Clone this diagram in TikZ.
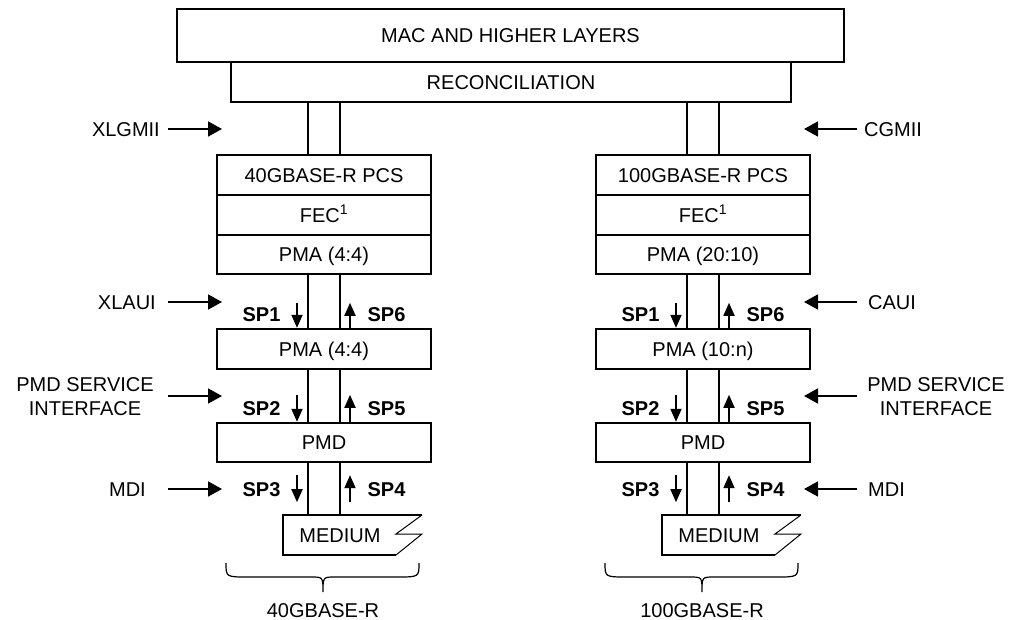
\documentclass[tikz,border=0pt]{standalone}
\usepackage{fontspec}
\setmainfont{Liberation Sans}
\usetikzlibrary{arrows.meta}
\begin{document}
\begin{tikzpicture}[x=1pt,y=-1pt,
  every node/.style={font=\fontsize{20}{24}\selectfont, inner sep=0pt, text height=14.4pt, text depth=0pt},
  twoline/.style={align=center, text height=38.4pt, text depth=0pt},
  box/.style={draw, line width=2.4pt, minimum width=214pt, minimum height=40pt},
  pair/.style={line width=2.2pt},
  bigarrow/.style={line width=1.8pt, -{Triangle[length=14pt,width=15pt]}},
  smallarrow/.style={line width=1.8pt, -{Triangle[length=13pt,width=11pt]}},
  splabel/.style={font=\fontsize{20}{24}\selectfont\bfseries},
  brace/.style={line width=1.2pt},
  ]
\fill[white] (0,0) rectangle (1014,620);
\useasboundingbox (0,0) rectangle (1014,620);

\node[draw, line width=2.4pt, minimum width=667pt, minimum height=53pt] (mac) at (510.5,35.5) {MAC AND HIGHER LAYERS};
\node[draw, line width=2.4pt, minimum width=560pt, minimum height=40pt] (recon) at (511,82) {RECONCILIATION};

\foreach \s/\c/\pcs/\pmaa/\pmab/\lbl in {L/324/40GBASE-R PCS/PMA (4:4)/PMA (4:4)/40GBASE-R, R/703/100GBASE-R PCS/PMA (20:10)/PMA (10:n)/100GBASE-R}{
  \node[box] (pcs\s) at (\c,175) {\pcs};
  \node[box] (fec\s) at (\c,215) {FEC\textsuperscript{1}};
  \node[box, minimum height=39pt] (pmaA\s) at (\c,254.5) {\pmaa};
  \node[box] (pmaB\s) at (\c,349) {\pmab};
  \node[box, minimum height=39pt] (pmd\s) at (\c,442.5) {PMD};
  \coordinate (medtop\s) at (\c,515);
  \foreach \d in {-16,16}{
    \draw[pair] ([xshift=\d pt]pcs\s.north) -- ([xshift=\d pt]pcs\s.north |- recon.south);
    \draw[pair] ([xshift=\d pt]pmaA\s.south) -- ([xshift=\d pt]pmaB\s.north);
    \draw[pair] ([xshift=\d pt]pmaB\s.south) -- ([xshift=\d pt]pmd\s.north);
    \draw[pair] ([xshift=\d pt]pmd\s.south) -- ([xshift=\d pt]medtop\s);
  }
  % medium
  \draw[line width=2.4pt] ({\c+72},555) -- ({\c-41},555) -- ({\c-41},515) -- ({\c+98},515);
  \draw[line width=1pt] ({\c+98},515) -- ({\c+72},534) -- ({\c+98},534) -- ({\c+72},555);
  \node (medium\s) at ({\c+16},535) {MEDIUM};
  % service point arrows
  \draw[smallarrow] ([xshift=-27pt,yshift=25pt]pmaB\s.north) -- ([xshift=-27pt]pmaB\s.north);
  \draw[smallarrow] ([xshift=26pt]pmaB\s.north) -- ([xshift=26pt,yshift=25pt]pmaB\s.north);
  \draw[smallarrow] ([xshift=-27pt,yshift=27pt]pmd\s.north) -- ([xshift=-27pt]pmd\s.north);
  \draw[smallarrow] ([xshift=26pt]pmd\s.north) -- ([xshift=26pt,yshift=27pt]pmd\s.north);
  \draw[smallarrow] ([xshift=-27pt,yshift=-12pt]pmd\s.south) -- ([xshift=-27pt,yshift=-39pt]pmd\s.south);
  \draw[smallarrow] ([xshift=26pt,yshift=-39pt]pmd\s.south) -- ([xshift=26pt,yshift=-12pt]pmd\s.south);
  \node[splabel] (spA\s) at ({\c-62.5},314) {SP1};
  \node[splabel] (spF\s) at ({\c+62.5},314) {SP6};
  \node[splabel] (spB\s) at ({\c-62.5},408) {SP2};
  \node[splabel] (spE\s) at ({\c+62.5},408) {SP5};
  \node[splabel] (spC\s) at ({\c-62.5},489) {SP3};
  \node[splabel] (spD\s) at ({\c+62.5},489) {SP4};
  % brace
  \draw[brace] ({\c-98},563) .. controls ({\c-98},577) .. ({\c-76},577) -- ({\c-13},577)
     .. controls ({\c-1},577) .. ({\c-1},592) .. controls ({\c-1},577) .. ({\c+11},577)
     -- ({\c+73},577) .. controls ({\c+95},577) .. ({\c+95},563);
  \node (base\s) at ({\c-1},610) {\lbl};
}

% left interface labels
\node[anchor=east] (xlgmii) at (160,129) {XLGMII};
\node[anchor=east] (xlaui) at (156,302) {XLAUI};
\node[twoline] (pmdsiL) at (85,396) {PMD SERVICE\\INTERFACE};
\node[anchor=east] (mdiL) at (146,489) {MDI};
\coordinate (xlgmiiTip) at (222,129);
\coordinate (xlauiTip) at (222,302);
\coordinate (pmdsiLTip) at (222,396);
\coordinate (mdiLTip) at (222,489);
\draw[bigarrow, shorten <=8pt] (xlgmii) -- (xlgmiiTip);
\draw[bigarrow, shorten <=12pt] (xlaui) -- (xlauiTip);
\draw[bigarrow, shorten <=14pt] (pmdsiL) -- (pmdsiLTip);
\draw[bigarrow, shorten <=22pt] (mdiL) -- (mdiLTip);

% right interface labels
\node[anchor=west] (cgmii) at (864,129) {CGMII};
\node[anchor=west] (caui) at (868,302) {CAUI};
\node[twoline] (pmdsiR) at (936,396) {PMD SERVICE\\INTERFACE};
\node[anchor=west] (mdiR) at (868,489) {MDI};
\coordinate (cgmiiTip) at (804,129);
\coordinate (cauiTip) at (804,302);
\coordinate (pmdsiRTip) at (804,396);
\coordinate (mdiRTip) at (804,489);
\draw[bigarrow, shorten <=7pt] (cgmii) -- (cgmiiTip);
\draw[bigarrow, shorten <=11pt] (caui) -- (cauiTip);
\draw[bigarrow, shorten <=10pt] (pmdsiR) -- (pmdsiRTip);
\draw[bigarrow, shorten <=11pt] (mdiR) -- (mdiRTip);
\end{tikzpicture}
\end{document}
